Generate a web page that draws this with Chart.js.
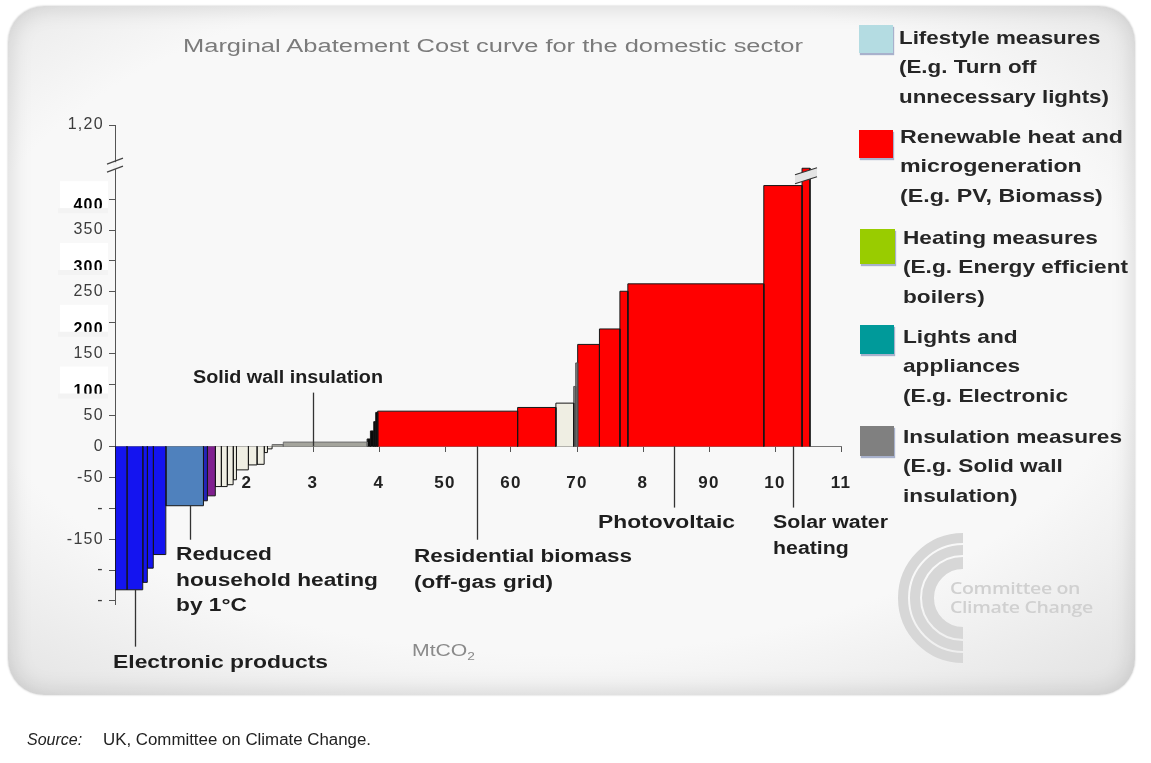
<!DOCTYPE html>
<html>
<head>
<meta charset="utf-8">
<script src="https://cdn.jsdelivr.net/npm/chart.js@4.4.1/dist/chart.umd.min.js"></script>
<style>
html, body { margin: 0; padding: 0; background: #fff; }
body { width: 1151px; height: 763px; position: relative; overflow: hidden;
       font-family: "Liberation Sans", Arial, sans-serif; }
#panel { position: absolute; left: 8px; top: 6px; width: 1127px; height: 689px;
         border-radius: 36px;
         background: radial-gradient(ellipse 75% 70% at 48% 45%, #f8f8f8 70%, #e4e4e4 100%);
         box-shadow: 0 0 2px rgba(0,0,0,0.25), inset 0 0 24px rgba(0,0,0,0.15); }
#chartWrap { position: absolute; left: 0; top: 0; width: 1151px; height: 763px; }
.abs { position: absolute; white-space: nowrap; transform-origin: 0 0; }
.title { left: 183px; top: 36px; font-size: 18px; line-height: 20px; color: #7b7b7b; }
.note { font-weight: bold; font-size: 18px; line-height: 25.5px; color: #1e1e1e; }
.lg-box { position: absolute; box-shadow: 1px 2px 1px rgba(70,90,150,0.45); }
.lg-text { font-weight: bold; font-size: 19px; line-height: 29.3px; color: #262626; }
.unit { left: 412px; top: 641px; font-size: 17px; color: #8a8a8a; }
.logo { left: 950px; top: 578px; font-family: "Open Sans", sans-serif; font-weight: 600;
        font-size: 16.5px; line-height: 19px; color: #d0d0d0; letter-spacing: -0.3px; }
.src { top: 731px; font-size: 16px; color: #222; }
</style>
</head>
<body>
<div id="panel"></div>
<div id="chartWrap"><canvas id="mac" width="1151" height="763"></canvas></div>

<div class="abs title" data-w="620">Marginal Abatement Cost curve for the domestic sector</div>

<div class="abs note" data-w="190" style="left:193px;top:365px">Solid wall insulation</div>
<div class="abs note" data-w="202" style="left:176px;top:542px">Reduced<br>household heating<br>by 1°C</div>
<div class="abs note" data-w="215" style="left:113px;top:650px">Electronic products</div>
<div class="abs note" data-w="218" style="left:414px;top:544px">Residential biomass<br>(off-gas grid)</div>
<div class="abs note" data-w="137" style="left:598px;top:510px">Photovoltaic</div>
<div class="abs note" data-w="115" style="left:773px;top:510px">Solar water<br>heating</div>
<div class="abs unit" data-w="63">MtCO<sub style="font-size:11px">2</sub></div>

<div class="lg-box" style="left:859px;top:25px;width:34px;height:28px;background:#b4dce2"></div>
<div class="abs lg-text" data-w="210" style="left:899px;top:23px">Lifestyle measures<br>(E.g. Turn off<br>unnecessary lights)</div>
<div class="lg-box" style="left:859px;top:130px;width:34px;height:28px;background:#ff0000"></div>
<div class="abs lg-text" data-w="223" style="left:900px;top:122px">Renewable heat and<br>microgeneration<br>(E.g. PV, Biomass)</div>
<div class="lg-box" style="left:860px;top:229px;width:35px;height:35px;background:#99cc00"></div>
<div class="abs lg-text" data-w="225" style="left:903px;top:223px">Heating measures<br>(E.g. Energy efficient<br>boilers)</div>
<div class="lg-box" style="left:860px;top:325px;width:34px;height:29px;background:#009a9a"></div>
<div class="abs lg-text" data-w="165" style="left:903px;top:322px">Lights and<br>appliances<br>(E.g. Electronic</div>
<div class="lg-box" style="left:860px;top:426px;width:34px;height:30px;background:#808080"></div>
<div class="abs lg-text" data-w="219" style="left:903px;top:422px">Insulation measures<br>(E.g. Solid wall<br>insulation)</div>

<div class="abs logo" data-w="143">Committee on<br>Climate Change</div>

<div class="abs src" style="left:27px;font-style:italic">Source:</div>
<div class="abs src" data-w="268" style="left:103px">UK, Committee on Climate Change.</div>

<script>
// abatement (width of each block) and cost of each measure, left to right
const measureAbatement = [0.18, 0.24, 0.07, 0.09, 0.19, 0.57, 0.06, 0.12,
                          0.09, 0.09, 0.09, 0.05, 0.18, 0.13, 0.11, 0.05, 0.07,
                          0.17, 1.27, 0.05, 0.05, 0.03, 0.03,
                          2.12, 0.58, 0.27, 0.03, 0.03,
                          0.33, 0.31, 0.12, 2.06, 0.58, 0.12];
const measureCost = [-232, -232, -220, -197, -175, -96, -88, -80,
                     -65, -65, -62, -54, -38, -30, -29, -10, -4,
                     3, 7, 12, 25, 40, 55,
                     57, 63, 70, 97, 135,
                     165, 190, 251, 263, 422, 450];
const measureType = ['elec', 'elec', 'elec', 'elec', 'elec', 'steel', 'navy', 'purple',
                     'cream', 'cream', 'cream', 'cream', 'cream', 'cream', 'cream', 'cream', 'cream',
                     'insul', 'insul', 'black', 'black', 'black', 'black',
                     'red', 'red', 'cream', 'grey', 'grey',
                     'red', 'red', 'red', 'red', 'red', 'red'];

const xTickValues = [1, 2, 3, 4, 5, 6, 7, 8, 9, 10, 11];
const xTickLabels = ['1', '2', '3', '4', '50', '60', '70', '8', '90', '10', '11'];
const yTickValues = [-250, -200, -150, -100, -50, 0, 50, 100, 150, 200, 250, 300, 350, 400, 520];
const yTickLabels = ['-', '-', '-150', '-', '-50', '0', '50', '100', '150', '200', '250', '300', '350', '400', '1,20'];
const yPatchedTicks = [100, 200, 300, 400];

// leader lines from the annotated measures to their labels
const leaderX = [0.30, 1.14, 3.00, 5.48, 8.47, 10.27];
const leaderFrom = [-232, -96, 0, 0, 0, 0];
const leaderTo = [-324, -151, 87, -151, -99, -99];

const typeFill = {
    elec: '#1414f0', steel: '#4f81bd', navy: '#2424b8', purple: '#80208f',
    cream: '#efeee3', insul: '#a4a49c', black: '#0a0a0a', red: '#ff0000', grey: '#7d7d7d'
};
const typeBorder = { insul: '#6e6e6e', grey: '#555' };

// stretch the html texts to the widths they have in the picture
document.querySelectorAll('[data-w]').forEach(el => {
    const w = el.getBoundingClientRect().width;
    el.style.transform = 'scaleX(' + (parseFloat(el.dataset.w) / w) + ')';
});

let cursor = 0;
const datasets = measureAbatement.map((w, i) => {
    const x0 = cursor, x1 = cursor + w, c = measureCost[i];
    cursor = x1;
    return {
        data: [{ x: x0, y: 0 }, { x: x0, y: c }, { x: x1, y: c }, { x: x1, y: 0 }],
        backgroundColor: typeFill[measureType[i]],
        borderColor: typeBorder[measureType[i]] || '#161616',
        borderWidth: 1,
        fill: 'origin',
        pointRadius: 0,
        tension: 0,
    };
});

const decor = {
    id: 'decor',
    beforeDraw(chart) {
        const ctx = chart.ctx;
        const y = chart.scales.y;
        ctx.save();
        // watermark arcs
        ctx.strokeStyle = '#d7d7d7';
        [[60, 10], [48, 10], [35, 12]].forEach(([r, w]) => {
            ctx.lineWidth = w;
            ctx.beginPath();
            ctx.arc(963, 598, r, Math.PI / 2, Math.PI * 1.5);
            ctx.stroke();
        });
        // pasted white label boxes
        ctx.fillStyle = '#ffffff';
        yPatchedTicks.forEach(v => {
            const py = y.getPixelForValue(v);
            ctx.fillRect(60, py - 18, 48, 27);
        });
        ctx.restore();
        // wider lettering for the y axis labels
        ctx.letterSpacing = '1.3px';
    },
    beforeDatasetsDraw(chart) {
        chart.ctx.letterSpacing = '0px';
    },
    afterDatasetsDraw(chart) {
        const { ctx, scales: { x, y } } = chart;
        ctx.save();
        ctx.strokeStyle = '#333';
        ctx.lineWidth = 1.3;
        leaderX.forEach((lx, i) => {
            const px = Math.round(x.getPixelForValue(lx)) + 0.5;
            ctx.beginPath();
            ctx.moveTo(px, y.getPixelForValue(leaderFrom[i]));
            ctx.lineTo(px, y.getPixelForValue(leaderTo[i]));
            ctx.stroke();
        });
        ctx.restore();
    },
    afterDraw(chart) {
        const { ctx, scales: { x, y } } = chart;
        ctx.save();
        // cut bottoms of pasted labels
        ctx.fillStyle = '#f3f3f3';
        yPatchedTicks.forEach(v => {
            const py = y.getPixelForValue(v);
            ctx.fillRect(58, py + 9, 50, 5);
        });
        // axis break on y axis
        const ax = x.getPixelForValue(0);
        const by = y.getPixelForValue(455);
        ctx.fillStyle = '#f2f2f2';
        ctx.fillRect(ax - 2, by - 3, 4, 7);
        ctx.strokeStyle = '#444';
        ctx.lineWidth = 1.2;
        [-4, 4].forEach(d => {
            ctx.beginPath();
            ctx.moveTo(ax - 8, by + d + 3);
            ctx.lineTo(ax + 8, by + d - 3);
            ctx.stroke();
        });
        // break on the tallest bar
        const bx = x.getPixelForValue(10.47);
        const bt = y.getPixelForValue(446);
        ctx.fillStyle = '#e4e4e4';
        ctx.beginPath();
        ctx.moveTo(bx - 11, bt + 4); ctx.lineTo(bx + 11, bt - 3);
        ctx.lineTo(bx + 11, bt + 6); ctx.lineTo(bx - 11, bt + 13);
        ctx.closePath();
        ctx.fill();
        ctx.strokeStyle = '#333';
        [[4, -3], [13, 6]].forEach(([a, b]) => {
            ctx.beginPath();
            ctx.moveTo(bx - 11, bt + a);
            ctx.lineTo(bx + 11, bt + b);
            ctx.stroke();
        });
        ctx.restore();
    }
};

new Chart(document.getElementById('mac'), {
    type: 'line',
    data: { datasets },
    plugins: [decor],
    options: {
        responsive: false,
        animation: false,
        layout: { padding: { left: 55, right: 310, top: 125, bottom: 159 } },
        plugins: { legend: { display: false }, tooltip: { enabled: false } },
        elements: { line: { borderJoinStyle: 'miter' } },
        scales: {
            x: {
                type: 'linear', min: 0, max: 11,
                position: { y: 0 }, z: 1,
                afterFit: s => { s.height = 0; },
                afterBuildTicks: s => { s.ticks = xTickValues.map(v => ({ value: v })); },
                ticks: {
                    autoSkip: false, maxRotation: 0, padding: 22,
                    callback: v => xTickLabels[xTickValues.indexOf(v)],
                    font: { family: 'Liberation Sans', size: 17, weight: 'bold' },
                    color: '#222'
                },
                grid: { drawOnChartArea: false, tickLength: 5, color: '#555' },
                border: { color: '#777' }
            },
            y: {
                type: 'linear', min: -255, max: 520,
                afterFit: s => { s.width = 60; },
                afterBuildTicks: s => { s.ticks = yTickValues.map(v => ({ value: v })); },
                ticks: {
                    autoSkip: false, padding: 5,
                    callback: v => {
                        const lab = yTickLabels[yTickValues.indexOf(v)];
                        return yPatchedTicks.includes(v) ? ['', lab] : lab;
                    },
                    font: ctx => (ctx.tick && yPatchedTicks.includes(ctx.tick.value))
                        ? { family: 'Liberation Sans', size: 16, weight: 'bold', lineHeight: 0.85 }
                        : { family: 'Liberation Sans', size: 16 },
                    color: ctx => (ctx.tick && yPatchedTicks.includes(ctx.tick.value)) ? '#000' : '#3c3c3c'
                },
                grid: { drawOnChartArea: false, tickLength: 6, color: '#555' },
                border: { color: '#555' }
            }
        }
    }
});
</script>
</body>
</html>
